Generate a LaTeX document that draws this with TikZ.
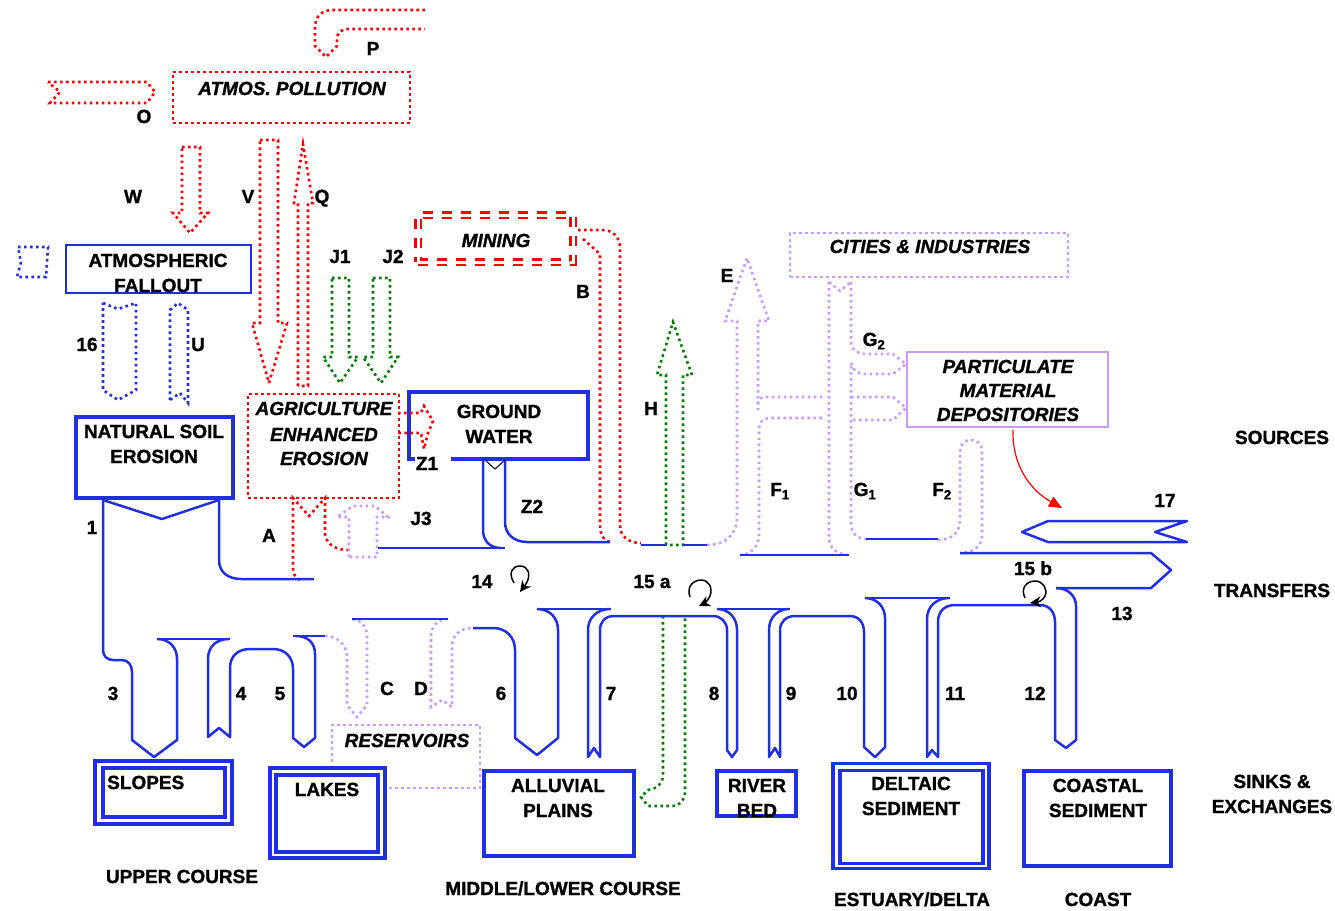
\documentclass[tikz,border=0pt]{standalone}
\usepackage{fontspec}
\setmainfont{Liberation Sans}[BoldFeatures={FakeBold=1.2},BoldItalicFeatures={FakeBold=1.2}]
\usetikzlibrary{arrows.meta}
\definecolor{rb}{RGB}{32,48,224}
\definecolor{lav}{RGB}{204,153,255}
\definecolor{gr}{RGB}{0,128,0}
\definecolor{rd}{RGB}{255,0,0}
\begin{document}
\begin{tikzpicture}[x=1pt,y=-1pt,
  bline/.style={draw=rb,line width=2.5pt,line join=round},
  bbox/.style={draw=rb,line width=3.2pt,inner sep=0pt},
  dotbase/.style={line width=2.6pt,dash pattern=on 2.6pt off 3.4pt},
  dotR/.style={dotbase,draw=rd},
  dotG/.style={dotbase,draw=gr},
  dotL/.style={dotbase,draw=lav},
  dotB/.style={dotbase,draw=rb},
  lbl/.style={font=\fontsize{19}{23}\selectfont\bfseries,anchor=base,inner sep=0pt},
  lbli/.style={font=\fontsize{19}{23}\selectfont\bfseries\itshape,anchor=base,inner sep=0pt},
  loopar/.style={draw=black,line width=1.5pt,-{Stealth[length=11pt,width=11pt]}}
]
\fill[white] (0,0) rectangle (1335,910);
\useasboundingbox (0,0) rectangle (1335,910);

% ---------- boxes ----------
\node[dotR,minimum width=237pt,minimum height=51pt] (atm) at (291.5,97.5) {};
\node[dotR,minimum width=151pt,minimum height=104pt] (agr) at (323.5,446) {};
\node[draw=rd,line width=2.5pt,double=white,double distance=3pt,dash pattern=on 10pt off 9pt,minimum width=155pt,minimum height=47pt] (min) at (495.5,238.5) {};
\node[dotL,minimum width=278pt,minimum height=44pt] (cit) at (929,255) {};
\node[draw=lav,line width=1.5pt,minimum width=201pt,minimum height=75pt] (pmd) at (1007.5,389.5) {};
\node[bbox,line width=2.6pt,minimum width=185pt,minimum height=48pt] (af) at (158.5,269) {};
\node[bbox,minimum width=157pt,minimum height=81pt] (nse) at (154.5,457.5) {};
\node[bbox,minimum width=137pt,minimum height=63pt] (slo) at (163.5,792.5) {};
\node[bbox,minimum width=122pt,minimum height=49pt] (sloin) at (164,792.5) {};
\node[bbox,minimum width=115pt,minimum height=90pt] (lak) at (327.5,813) {};
\node[bbox,minimum width=102pt,minimum height=77pt] (lakin) at (327,813.5) {};
\node[bbox,minimum width=150pt,minimum height=85pt] (all) at (559,813.5) {};
\node[bbox,minimum width=79pt,minimum height=45pt] (rbd) at (756.5,793.5) {};
\node[bbox,minimum width=156pt,minimum height=105.5pt] (del) at (911,816) {};
\node[bbox,minimum width=143pt,minimum height=93.5pt] (delin) at (911.5,817) {};
\node[bbox,minimum width=147pt,minimum height=95pt] (coa) at (1097.5,818.5) {};
% ground water box (open at bottom left)
\draw[bbox] (415,459) -- (409,459) -- (409,392) -- (588,392) -- (588,459) -- (451,459);

% ---------- red dotted ----------
\draw[dotR] (425,10) -- (333,10) .. controls (322,10) and (315,16) .. (315,28) -- (315,46) -- (326,57) -- (337,46) -- (337,40) .. controls (337,33) and (341,29) .. (348,29) -- (425,29);
\draw[dotR] (48,82) -- (147,82) -- (155,92) -- (147,103) -- (50,103) -- (60,92) -- cycle;
\draw[dotR] (182,147) -- (200,147) -- (200,213) -- (208,213) -- (190,233) -- (173,213) -- (182,213) -- cycle;
\draw[dotR] (260,140) -- (278,140) -- (278,323) -- (287,323) -- (269,383) -- (252,323) -- (260,323) -- cycle;
\draw[dotR] (298,386) -- (298,203) -- (294,203) -- (303,144) -- (313,203) -- (308,203) -- (308,386) -- cycle;
\draw[dotR] (398,413) -- (421,413) -- (424,406) -- (433,421) -- (428,433) -- (424,449) -- (421,433) -- (398,433);
\draw[dotR] (578,230) -- (602,230) .. controls (613,230) and (620,237) .. (620,248) -- (620,525) .. controls (620,536) and (628,543) .. (641,543);
\draw[dotR] (583,239) -- (600,254) -- (600,525) .. controls (600,535) and (604,541) .. (610,542);
\draw[dotR] (300,580) .. controls (295,577) and (293,574) .. (293,568) -- (293,498) -- (309,516) -- (325,498) -- (325,532) .. controls (325,543) and (334,550) .. (348,550);

% ---------- green dotted ----------
\draw[dotG] (332,278) -- (349,278) -- (349,357) -- (358,357) -- (340,383) -- (323,357) -- (332,357) -- cycle;
\draw[dotG] (373,278) -- (390,278) -- (390,357) -- (398,357) -- (381,383) -- (363,357) -- (373,357) -- cycle;
\draw[dotG] (666,545) -- (666,375) -- (657,375) -- (673,322) -- (692,375) -- (683,375) -- (683,545) -- cycle;
\draw[dotG] (663,616) -- (663,775) .. controls (663,784) and (656,789) .. (648,790) -- (641,797) -- (648,806) -- (672,806) .. controls (680,806) and (685,800) .. (685,792) -- (685,616);

% ---------- lavender dotted ----------
\draw[dotL] (349,557) -- (349,517) -- (337,517) -- (353,506) -- (375,506) -- (388,517) -- (377,517) -- (377,557) -- cycle;
\draw[dotL] (707,545) .. controls (725,545) and (737,535) .. (737,517) -- (737,321) -- (725,321) -- (747,258) -- (769,321) -- (758,321) -- (758,410);
\draw[dotL] (758,404) .. controls (758,399) and (761,397) .. (766,397) -- (822,397);
\draw[dotL] (822,418) -- (770,418) .. controls (763,418) and (759,422) .. (759,430) -- (759,535) .. controls (759,546) and (751,555) .. (740,555);
\draw[dotL] (829,282) -- (829,538) .. controls (829,548) and (838,555) .. (849,555);
\draw[dotL] (829,282) -- (840,291) -- (851,282);
\draw[dotL] (851,282) -- (851,340) .. controls (851,349) and (856,354) .. (866,354) -- (893,354) -- (906,364) -- (893,374) -- (866,374) .. controls (857,374) and (851,369) .. (851,360);
\draw[dotL] (851,366) -- (851,523) .. controls (851,533) and (857,539) .. (867,539);
\draw[dotL] (851,397) -- (893,397) -- (906,408) -- (893,420) -- (851,420);
\draw[dotL] (938,540) .. controls (952,540) and (960,532) .. (960,520) -- (960,451) .. controls (960,444) and (965,440) .. (971,440) .. controls (977,440) and (982,444) .. (982,451) -- (982,535) .. controls (982,546) and (973,553) .. (960,553);
\draw[dotL] (325,636) .. controls (338,636) and (347,645) .. (347,658) -- (347,705) -- (357,717) -- (367,705) -- (367,636) .. controls (367,626) and (360,619) .. (350,619);
\draw[dotL] (448,619) .. controls (438,619) and (431,626) .. (431,637) -- (431,707) -- (442,700) -- (452,707) -- (452,646) .. controls (452,636) and (460,628) .. (472,628);
\draw[dotL] (332,762) -- (332,725) -- (480,725) -- (480,788) -- (387,788);

% ---------- blue dotted ----------
\draw[dotB] (18,247) -- (48,247) -- (46,277) -- (17,277) -- (21,262) -- cycle;
\draw[dotB] (103,303) -- (118,309) -- (136,303) -- (136,390) -- (118,400) -- (103,390) -- cycle;
\draw[dotB] (170,400) -- (170,310) -- (178,303) -- (188,310) -- (188,403) -- (180,393) -- cycle;

% ---------- blue pipes ----------
\draw[bline] (103,500) -- (162,519) -- (219,500);
\draw[bline] (103,498) -- (103,650) .. controls (103,656) and (107,660) .. (113,660) -- (122,660) .. controls (128,660) and (132,665) .. (132,672) -- (132,740) -- (154,757) -- (177,740) -- (177,659) .. controls (177,648) and (170,639) .. (157,639);
\draw[bline] (157,639) -- (230,639);
\draw[bline] (229,639) .. controls (217,639) and (208,646) .. (208,659) -- (208,737) -- (219,728) -- (230,737) -- (230,668) .. controls (230,656) and (238,649) .. (250,649) -- (273,649) .. controls (285,649) and (293,657) .. (293,669) -- (293,738) -- (304,747) -- (315,738) -- (315,654) .. controls (315,643) and (308,636) .. (296,636);
\draw[bline] (293,636) -- (325,636);
\draw[bline] (352,619) -- (448,619);
\draw[bline] (473,628) -- (493,628) .. controls (506,628) and (515,637) .. (515,650) -- (515,738) -- (537,755) -- (558,738) -- (558,630) .. controls (558,618) and (550,609) .. (537,609);
\draw[bline] (537,609) -- (611,609);
\draw[bline] (610,609) .. controls (598,609) and (588,617) .. (588,630) -- (588,757) -- (594,748) -- (600,757) -- (600,630) .. controls (600,622) and (605,616) .. (614,616) -- (713,616) .. controls (721,616) and (727,622) .. (727,630) -- (727,750) -- (732,757) -- (737,750) -- (737,630) .. controls (737,618) and (729,609) .. (717,609);
\draw[bline] (717,609) -- (790,609);
\draw[bline] (789,609) .. controls (778,609) and (769,617) .. (769,630) -- (769,757) -- (775,748) -- (780,757) -- (780,630) .. controls (780,622) and (786,616) .. (795,616) -- (850,616) .. controls (858,616) and (864,622) .. (864,632) -- (864,747) -- (875,757) -- (885,747) -- (885,618) .. controls (885,607) and (877,598) .. (865,598);
\draw[bline] (865,598) -- (950,598);
\draw[bline] (949,598) .. controls (937,598) and (927,606) .. (927,619) -- (927,757) -- (932,750) -- (938,757) -- (938,622) .. controls (938,612) and (944,605) .. (955,605) -- (1040,605) .. controls (1049,605) and (1055,612) .. (1055,622) -- (1055,740) -- (1066,748) -- (1076,740) -- (1076,606) .. controls (1076,596) and (1068,588) .. (1056,588);
\draw[bline] (1056,588) -- (1151,588) -- (1171,570) -- (1151,553) -- (960,553);
\draw[bline] (219,498) -- (219,560) .. controls (219,572) and (228,579) .. (241,579) -- (314,579);
\draw[bline] (378,548) -- (505,548);
\draw[bline] (483,459) -- (483,530) .. controls (483,541) and (490,548) .. (501,548);
\draw[bline] (505,459) -- (505,522) .. controls (505,534) and (514,542) .. (527,542) -- (610,542);
\draw[bline] (641,545) -- (666,545);
\draw[bline] (683,545) -- (707,545);
\draw[bline] (740,555) -- (849,555);
\draw[bline] (866,539) -- (938,539);
\draw[bline] (1022,532) -- (1048,521) -- (1187,521) -- (1155,532) -- (1187,542) -- (1048,542) -- cycle;
\draw[black,line width=1pt] (485,460) -- (495,469) -- (505,460);

% ---------- red arrow and loops ----------
\draw[rd,line width=1.2pt,-{Triangle[length=13pt,width=11pt]}] (1013,430) .. controls (1012,465) and (1030,490) .. (1062,508);
\draw[loopar] (514,583) .. controls (508,573) and (512,566) .. (520,566) .. controls (528,566) and (531,574) .. (527,582) .. controls (525,586) and (523,588) .. (520,592);
\draw[loopar] (690,597) .. controls (686,586) and (694,580) .. (701,580) .. controls (709,580) and (713,588) .. (710,596) .. controls (708,600) and (705,603) .. (699,606);
\draw[loopar] (1025,598) .. controls (1020,588) and (1027,581) .. (1035,581) .. controls (1043,581) and (1048,589) .. (1045,596) .. controls (1043,600) and (1039,602) .. (1030,603);

% ---------- texts ----------
\node[lbli] (tatm) at (292,95) {ATMOS. POLLUTION};
\node[lbl] (tO) at (144,123) {O};
\node[lbl] (tP) at (373,55) {P};
\node[lbl] (tW) at (133,203) {W};
\node[lbl] (tV) at (248,203) {V};
\node[lbl] (tQ) at (322,203) {Q};
\node[lbl] (taf1) at (158,267) {ATMOSPHERIC};
\node[lbl] (taf2) at (158,292) {FALLOUT};
\node[lbl] (tJ1) at (340,263) {J1};
\node[lbl] (tJ2) at (393,263) {J2};
\node[lbli] (tmin) at (496,247) {MINING};
\node[lbl] (tB) at (583,298) {B};
\node[lbl] (tE) at (727,282) {E};
\node[lbli] (tcit) at (930,253) {CITIES \& INDUSTRIES};
\node[lbl] (tG2) at (874,346) {G\textsubscript{2}};
\node[lbli] (tpm1) at (1008,373) {PARTICULATE};
\node[lbli] (tpm2) at (1008,397) {MATERIAL};
\node[lbli] (tpm3) at (1008,421) {DEPOSITORIES};
\node[lbl] (t16) at (87,351) {16};
\node[lbl] (tU) at (198,351) {U};
\node[lbl] (tH) at (651,415) {H};
\node[lbl] (tns1) at (154,438) {NATURAL SOIL};
\node[lbl] (tns2) at (154,463) {EROSION};
\node[lbli] (tag1) at (324,415) {AGRICULTURE};
\node[lbli] (tag2) at (324,441) {ENHANCED};
\node[lbli] (tag3) at (324,465) {EROSION};
\node[lbl] (tgw1) at (499,418) {GROUND};
\node[lbl] (tgw2) at (499,443) {WATER};
\node[lbl] (tZ1) at (427,470) {Z1};
\node[lbl] (tsrc) at (1282,444) {SOURCES};
\node[lbl] (tF1) at (780,496) {F\textsubscript{1}};
\node[lbl] (tG1) at (865,496) {G\textsubscript{1}};
\node[lbl] (tF2) at (942,496) {F\textsubscript{2}};
\node[lbl] (t17) at (1165,507) {17};
\node[lbl] (t1) at (92,534) {1};
\node[lbl] (tA) at (269,542) {A};
\node[lbl] (tJ3) at (421,525) {J3};
\node[lbl] (tZ2) at (532,513) {Z2};
\node[lbl] (t14) at (482,588) {14};
\node[lbl] (t15a) at (652,588) {15 a};
\node[lbl] (t15b) at (1033,575) {15 b};
\node[lbl] (ttr) at (1272,597) {TRANSFERS};
\node[lbl] (t13) at (1122,620) {13};
\node[lbl] (t3) at (113,700) {3};
\node[lbl] (t4) at (241,700) {4};
\node[lbl] (t5) at (280,700) {5};
\node[lbl] (tC) at (387,695) {C};
\node[lbl] (tD) at (421,695) {D};
\node[lbl] (t6) at (501,700) {6};
\node[lbl] (t7) at (611,700) {7};
\node[lbl] (t8) at (714,700) {8};
\node[lbl] (t9) at (791,700) {9};
\node[lbl] (t10) at (847,700) {10};
\node[lbl] (t11) at (955,700) {11};
\node[lbl] (t12) at (1035,700) {12};
\node[lbli] (tres) at (407,747) {RESERVOIRS};
\node[lbl,anchor=base west] (tslo) at (107,789) {SLOPES};
\node[lbl] (tlak) at (327,796) {LAKES};
\node[lbl] (tal1) at (558,792) {ALLUVIAL};
\node[lbl] (tal2) at (558,817) {PLAINS};
\node[lbl] (trb1) at (757,792) {RIVER};
\node[lbl] (trb2) at (757,817) {BED};
\node[lbl] (tde1) at (911,790) {DELTAIC};
\node[lbl] (tde2) at (911,815) {SEDIMENT};
\node[lbl] (tco1) at (1098,792) {COASTAL};
\node[lbl] (tco2) at (1098,817) {SEDIMENT};
\node[lbl] (tsk1) at (1272,788) {SINKS \&};
\node[lbl] (tsk2) at (1272,813) {EXCHANGES};
\node[lbl] (tup) at (182,883) {UPPER COURSE};
\node[lbl] (tmid) at (563,895) {MIDDLE/LOWER COURSE};
\node[lbl] (test) at (912,906) {ESTUARY/DELTA};
\node[lbl] (tcst) at (1098,906) {COAST};
\end{tikzpicture}
\end{document}
